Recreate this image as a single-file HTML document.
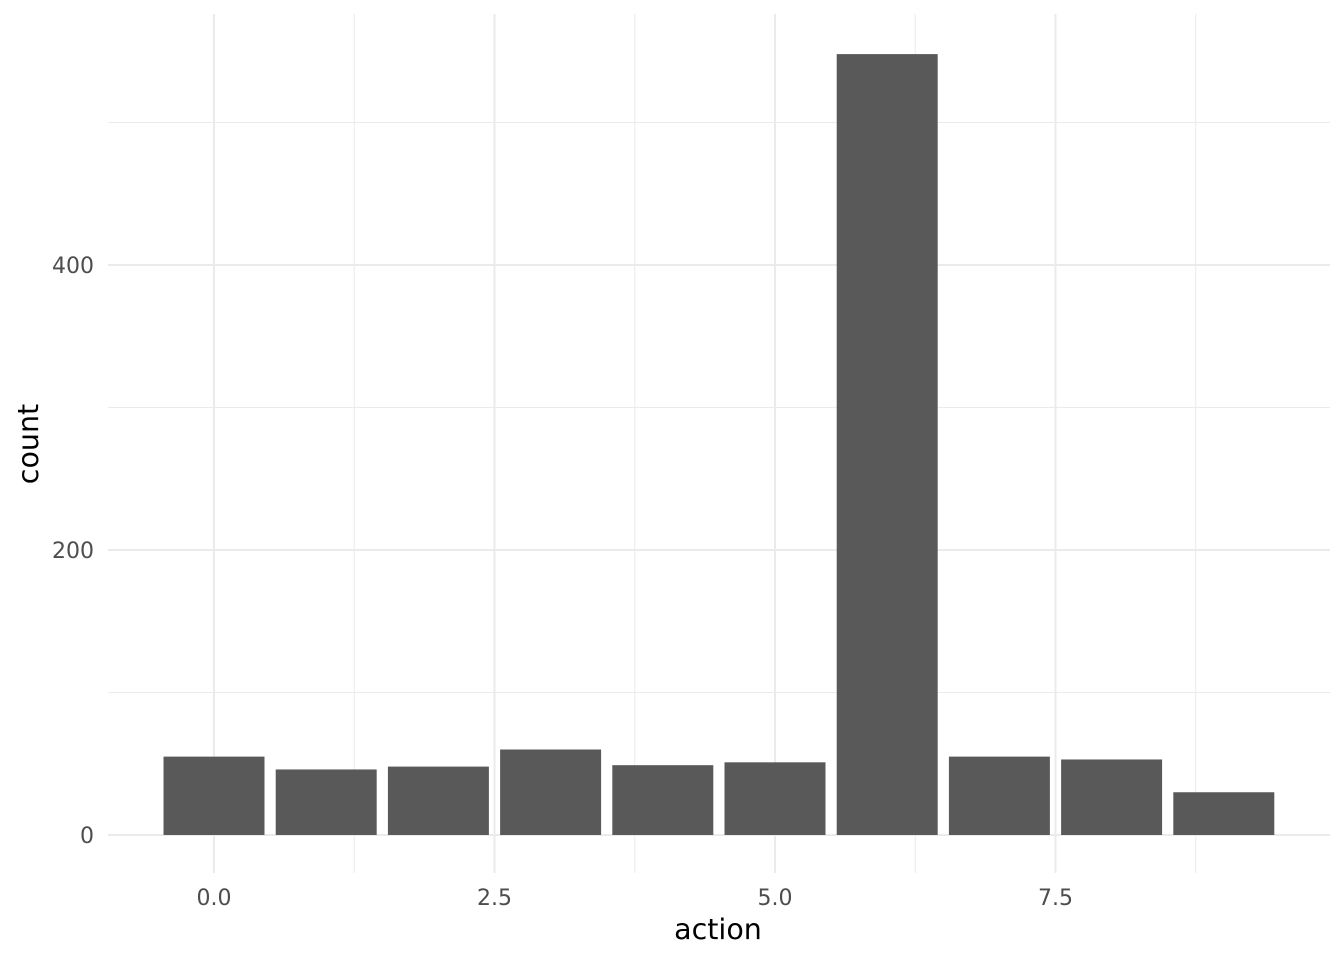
<!DOCTYPE html>
<html><head><meta charset="utf-8"><style>
html,body{margin:0;padding:0;background:#fff;}
svg{display:block;font-family:"DejaVu Sans","Liberation Sans",sans-serif;}
</style></head><body>
<svg id="chart" width="1344" height="960">
<g id="grid"></g><g id="bars"></g><g id="axes"></g>
<text x="718" y="939" text-anchor="middle" font-size="28.5" fill="#000">action</text>
<text transform="translate(38,444) rotate(-90)" text-anchor="middle" font-size="28.5" fill="#000">count</text>
</svg>
<script>
const categories=[0,1,2,3,4,5,6,7,8,9];
const counts=[55,46,48,60,49,51,548,55,53,30];
const xTicks=[0,2.5,5,7.5];
const xTickLabels=["0.0","2.5","5.0","7.5"];
const yTicks=[0,200,400];
const yTickLabels=["0","200","400"];
const NS="http://www.w3.org/2000/svg";
const L=108,R=1330,T=14,B=873;
const x=v=>214+v*112.2;
const y=v=>835-v*1.425;
function mk(tag,attrs,parent){const e=document.createElementNS(NS,tag);for(const k in attrs)e.setAttribute(k,attrs[k]);parent.appendChild(e);return e;}
const grid=document.getElementById('grid'),bars=document.getElementById('bars'),axes=document.getElementById('axes');
for(let i=0;i<xTicks.length;i++){const m=xTicks[i]+1.25;
 const g=mk('line',{x1:x(m),x2:x(m),y1:T,y2:B,stroke:'#ebebeb','stroke-width':1},grid);
 
 }
for(let i=0;i<yTicks.length;i++){const m=yTicks[i]+100;
 const g=mk('line',{x1:L,x2:R,y1:y(m),y2:y(m),stroke:'#ebebeb','stroke-width':1},grid);
 
 }
xTicks.forEach((t,i)=>{
 const g=mk('line',{x1:x(t),x2:x(t),y1:T,y2:B,stroke:'#ebebeb','stroke-width':2},grid);
 
 
 const tx=mk('text',{x:x(t),y:905,'text-anchor':'middle','font-size':22,fill:'#4d4d4d'},axes);
 tx.textContent=xTickLabels[i];
 
 
});
yTicks.forEach((t,i)=>{
 const g=mk('line',{x1:L,x2:R,y1:y(t),y2:y(t),stroke:'#ebebeb','stroke-width':2},grid);
 
 
 const tx=mk('text',{x:94,y:y(t)+8,'text-anchor':'end','font-size':22,fill:'#4d4d4d'},axes);
 tx.textContent=yTickLabels[i];
 
 
});
categories.forEach((c,i)=>{
 const w=0.9*112.2;
 const r=mk('rect',{x:x(c)-w/2,y:y(counts[i]),width:w,height:y(0)-y(counts[i]),fill:'#595959'},bars);
 
 
});
</script>
</body></html>
